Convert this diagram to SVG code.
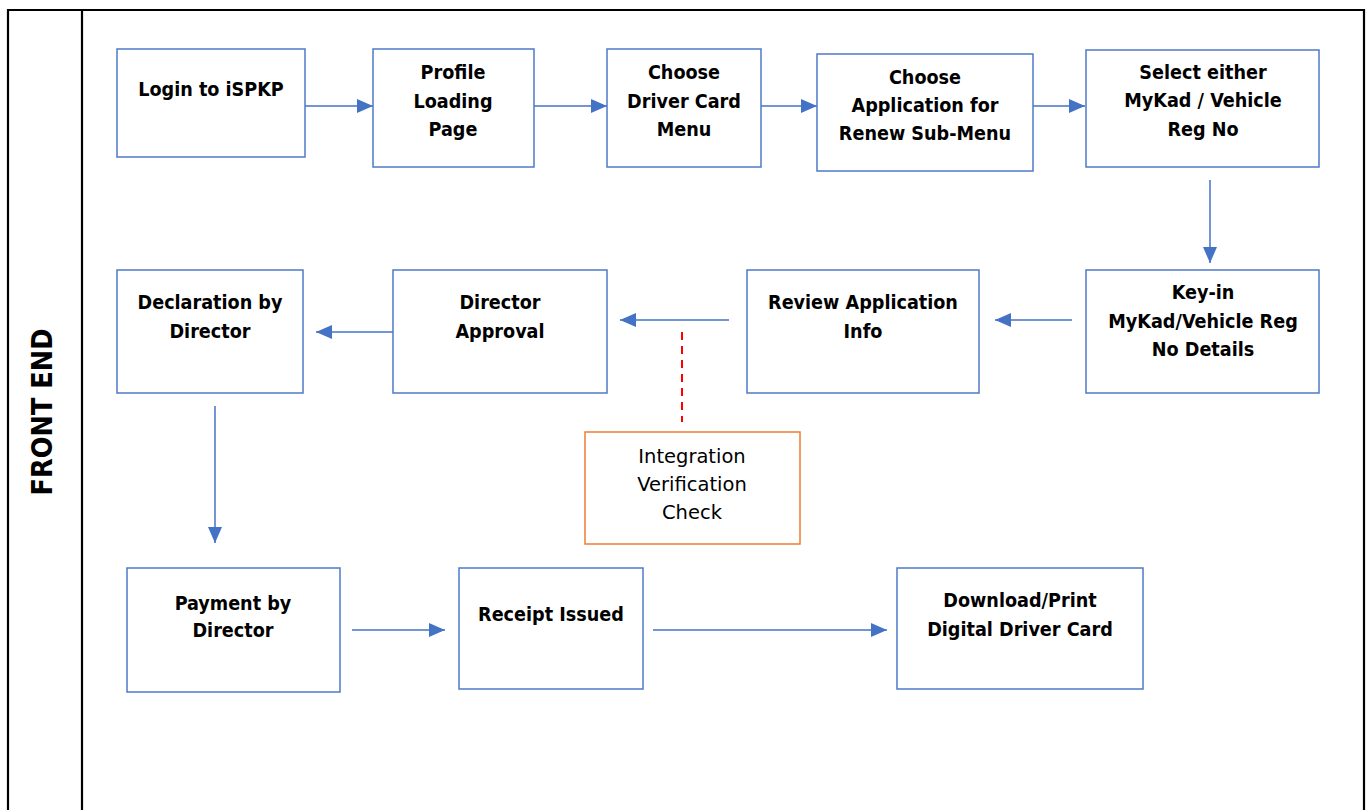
<svg xmlns="http://www.w3.org/2000/svg" width="1370" height="810" viewBox="0 0 1370 810">
<style>
.box{fill:#fff;stroke:#4f7ac7;stroke-width:1.5}
.obox{fill:#fff;stroke:#ed7d31;stroke-width:1.5}
.t{font-family:Tahoma,'DejaVu Sans Condensed','DejaVu Sans',sans-serif;font-size:19.6px;font-weight:bold;fill:#000;text-anchor:middle}
.n{font-family:Tahoma,'DejaVu Sans','DejaVu Sans Condensed',sans-serif;font-size:19.5px;fill:#000;text-anchor:middle}
.c{stroke:#4472c4;stroke-width:1.5;fill:none;marker-end:url(#ah)}
.lane{stroke:#000;stroke-width:2.2;fill:none}
</style>
<defs>
<marker id="ah" viewBox="0 0 16 14" refX="16" refY="7" markerWidth="16" markerHeight="14" markerUnits="userSpaceOnUse" orient="auto">
<path d="M0,0 L16,7 L0,14 z" fill="#4472c4"/>
</marker>
</defs>
<rect width="1370" height="810" fill="#fff"/>
<g id="lane">
<path class="lane" d="M8,812 V10 H1364 V812"/>
<path class="lane" d="M82,10 V812"/>
<text transform="translate(52,412) rotate(-90)" font-family="Tahoma,'DejaVu Sans Condensed','DejaVu Sans',sans-serif" font-size="28.5" font-weight="bold" text-anchor="middle">FRONT END</text>
</g>
<g id="connectors">
<line class="c" x1="305" y1="106" x2="373" y2="106"/>
<line class="c" x1="534" y1="106" x2="607" y2="106"/>
<line class="c" x1="761" y1="106" x2="817" y2="106"/>
<line class="c" x1="1033" y1="106" x2="1085" y2="106"/>
<line class="c" x1="1210" y1="180" x2="1210" y2="263"/>
<line class="c" x1="1072" y1="320" x2="995" y2="320"/>
<line class="c" x1="729" y1="320" x2="620" y2="320"/>
<line class="c" x1="393" y1="332" x2="316" y2="332"/>
<line class="c" x1="215" y1="406" x2="215" y2="543"/>
<line class="c" x1="352" y1="630" x2="445" y2="630"/>
<line class="c" x1="653" y1="630" x2="887" y2="630"/>
<line x1="682" y1="332" x2="682" y2="422" stroke="#ff0000" stroke-width="2" stroke-dasharray="8,6"/>
</g>
<g id="n1"><rect class="box" x="117" y="49" width="188" height="108"/><text class="t" x="211" y="96">Login to iSPKP</text></g>
<g id="n2"><rect class="box" x="373" y="49" width="161" height="118"/><text class="t" x="453" y="79">Profile</text><text class="t" x="453" y="108">Loading</text><text class="t" x="453" y="136">Page</text></g>
<g id="n3"><rect class="box" x="607" y="49" width="154" height="118"/><text class="t" x="684" y="79">Choose</text><text class="t" x="684" y="108">Driver Card</text><text class="t" x="684" y="136">Menu</text></g>
<g id="n4"><rect class="box" x="817" y="54" width="216" height="117"/><text class="t" x="925" y="84">Choose</text><text class="t" x="925" y="112">Application for</text><text class="t" x="925" y="140">Renew Sub-Menu</text></g>
<g id="n5"><rect class="box" x="1086" y="50" width="233" height="117"/><text class="t" x="1203" y="79">Select either</text><text class="t" x="1203" y="107">MyKad / Vehicle</text><text class="t" x="1203" y="136">Reg No</text></g>
<g id="n6"><rect class="box" x="1086" y="270" width="233" height="123"/><text class="t" x="1203" y="299">Key-in</text><text class="t" x="1203" y="328">MyKad/Vehicle Reg</text><text class="t" x="1203" y="356">No Details</text></g>
<g id="n7"><rect class="box" x="747" y="270" width="232" height="123"/><text class="t" x="863" y="309">Review Application</text><text class="t" x="863" y="338">Info</text></g>
<g id="n8"><rect class="box" x="393" y="270" width="214" height="123"/><text class="t" x="500" y="309">Director</text><text class="t" x="500" y="338">Approval</text></g>
<g id="n9"><rect class="box" x="117" y="270" width="186" height="123"/><text class="t" x="210" y="309">Declaration by</text><text class="t" x="210" y="338">Director</text></g>
<g id="n10"><rect class="obox" x="585" y="432" width="215" height="112"/><text class="n" x="692" y="463">Integration</text><text class="n" x="692" y="491">Verification</text><text class="n" x="692" y="519">Check</text></g>
<g id="n11"><rect class="box" x="127" y="568" width="213" height="124"/><text class="t" x="233" y="610">Payment by</text><text class="t" x="233" y="637">Director</text></g>
<g id="n12"><rect class="box" x="459" y="568" width="184" height="121"/><text class="t" x="551" y="621">Receipt Issued</text></g>
<g id="n13"><rect class="box" x="897" y="568" width="246" height="121"/><text class="t" x="1020" y="607">Download/Print</text><text class="t" x="1020" y="636">Digital Driver Card</text></g>
</svg>
